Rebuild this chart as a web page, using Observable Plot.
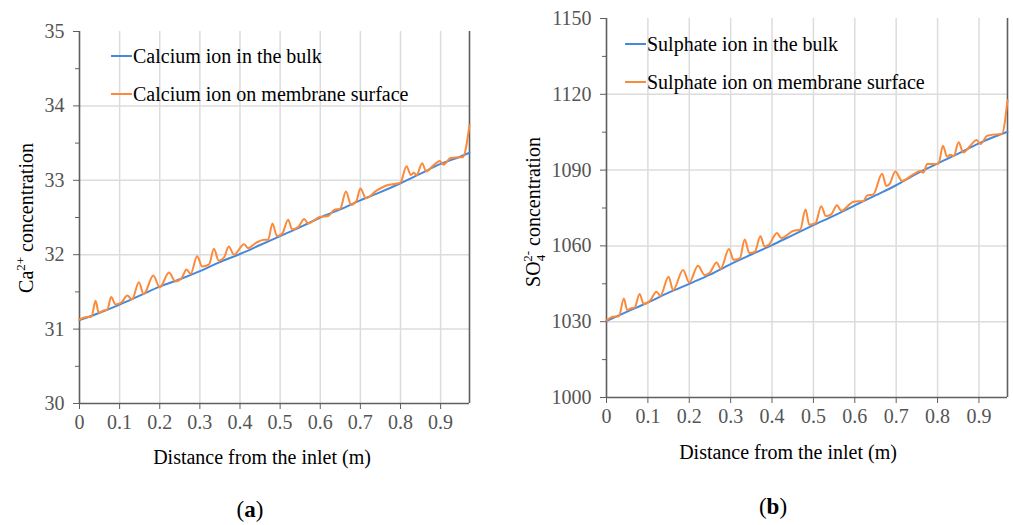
<!DOCTYPE html>
<html>
<head>
<meta charset="utf-8">
<script src="https://cdn.jsdelivr.net/npm/d3@7"></script>
<script src="https://cdn.jsdelivr.net/npm/@observablehq/plot@0.6"></script>
<style>
  html, body { margin: 0; padding: 0; background: #fff; }
  #root { position: relative; width: 1013px; height: 525px; font-family: "Liberation Serif", serif; overflow: hidden; }
  .pane { position: absolute; top: 0; }
  .lbl { position: absolute; font-family: "Liberation Serif", serif; font-size: 20px; color: #000; white-space: nowrap; line-height: 1; }
  .cap { font-size: 23px; }
  .ylbl { transform: translate(-50%, -50%) rotate(-90deg); }
  .xlbl { transform: translate(-50%, -50%); }
  .leg { position: absolute; display: flex; align-items: center; font-family: "Liberation Serif", serif; font-size: 20px; color: #000; white-space: nowrap; line-height: 1; transform: translateY(-50%); }
  .leg span.sw { display: inline-block; width: 21px; height: 0; border-top: 2px solid; margin-right: 1px; }
  sup, sub { font-size: 13px; line-height: 0; }
</style>
</head>
<body>
<div id="root"></div>
<script>
// ---------- data ----------
const xTicks = [0, 0.1, 0.2, 0.3, 0.4, 0.5, 0.6, 0.7, 0.8, 0.9];

// Panel (a): Ca2+ concentration
const caYTicks = [30, 31, 32, 33, 34, 35];
const caYMinor = [30.5, 31.5, 32.5, 33.5, 34.5];
const caXDomain = [0, 0.972];
const caBulk = [
  [0, 31.12], [0.05, 31.22], [0.1, 31.33], [0.15, 31.45], [0.2, 31.57], [0.25, 31.67],
  [0.3, 31.78], [0.35, 31.9], [0.4, 32.01], [0.45, 32.13], [0.5, 32.25], [0.55, 32.37],
  [0.6, 32.5], [0.65, 32.61], [0.7, 32.73], [0.75, 32.84], [0.8, 32.96], [0.85, 33.09],
  [0.9, 33.22], [0.95, 33.32], [0.972, 33.37]
];
const caSurface = [
  [0, 31.13], [0.015, 31.16], [0.03, 31.17], [0.04, 31.38], [0.048, 31.22], [0.06, 31.25],
  [0.069, 31.26], [0.079, 31.43], [0.09, 31.33], [0.105, 31.36], [0.119, 31.45], [0.131, 31.4],
  [0.148, 31.63], [0.16, 31.47], [0.184, 31.72], [0.2, 31.56], [0.223, 31.76], [0.239, 31.64],
  [0.254, 31.68], [0.267, 31.8], [0.277, 31.74], [0.293, 31.98], [0.306, 31.84], [0.323, 31.87],
  [0.335, 32.08], [0.347, 31.92], [0.36, 31.96], [0.372, 32.11], [0.385, 32.0], [0.41, 32.14],
  [0.42, 32.09], [0.44, 32.16], [0.46, 32.2], [0.47, 32.2], [0.481, 32.42], [0.492, 32.25],
  [0.505, 32.28], [0.52, 32.47], [0.53, 32.34], [0.545, 32.37], [0.56, 32.48], [0.57, 32.42],
  [0.6, 32.51], [0.62, 32.52], [0.634, 32.6], [0.65, 32.62], [0.664, 32.85], [0.677, 32.67],
  [0.69, 32.72], [0.7, 32.89], [0.714, 32.76], [0.74, 32.86], [0.765, 32.93], [0.795, 32.96],
  [0.8, 32.97], [0.815, 33.19], [0.826, 33.07], [0.833, 33.1], [0.84, 33.07], [0.854, 33.23],
  [0.864, 33.12], [0.882, 33.2], [0.898, 33.26], [0.907, 33.21], [0.925, 33.3], [0.95, 33.31],
  [0.955, 33.31], [0.972, 33.74]
];

// Panel (b): SO4 2- concentration
const soYTicks = [1000, 1030, 1060, 1090, 1120, 1150];
const soYMinor = [1015, 1045, 1075, 1105, 1135];
const soXDomain = [0, 0.969];
const soBulk = [
  [0, 1030.3], [0.05, 1034], [0.1, 1037.6], [0.15, 1041.5], [0.2, 1045], [0.25, 1048.6],
  [0.3, 1052.8], [0.35, 1056.6], [0.4, 1060.3], [0.45, 1064.3], [0.5, 1068.2], [0.55, 1072],
  [0.6, 1076], [0.65, 1080], [0.7, 1084], [0.75, 1088.6], [0.8, 1092.6], [0.85, 1096.5],
  [0.9, 1100.6], [0.94, 1103.4], [0.969, 1105.2]
];
const soSurface = [
  [0, 1030.5], [0.015, 1032], [0.03, 1032.2], [0.042, 1039.2], [0.05, 1034.6], [0.06, 1035.3],
  [0.068, 1035.6], [0.08, 1041], [0.09, 1037], [0.105, 1038.3], [0.121, 1041.9], [0.13, 1040.2],
  [0.15, 1047.8], [0.161, 1042.5], [0.185, 1050.5], [0.2, 1045.5], [0.221, 1052.1], [0.237, 1048.5],
  [0.25, 1049.5], [0.266, 1053.4], [0.276, 1051], [0.296, 1058.8], [0.307, 1054.5], [0.322, 1055],
  [0.334, 1062.5], [0.345, 1057.2], [0.358, 1057.6], [0.372, 1063.8], [0.382, 1059.8], [0.392, 1060.4],
  [0.412, 1065.1], [0.422, 1063.1], [0.452, 1066], [0.468, 1066.4], [0.481, 1074.4], [0.49, 1068.4],
  [0.505, 1069], [0.519, 1075.7], [0.53, 1071.8], [0.543, 1072.5], [0.557, 1076.1], [0.567, 1073.9],
  [0.597, 1077.5], [0.621, 1077.8], [0.629, 1079.8], [0.645, 1080.4], [0.666, 1088.6], [0.676, 1083.7],
  [0.684, 1084.5], [0.698, 1089.4], [0.714, 1085.7], [0.742, 1088.4], [0.758, 1089.6], [0.766, 1089],
  [0.775, 1092.4], [0.802, 1092.5], [0.813, 1099.6], [0.823, 1095.3], [0.831, 1096.1], [0.839, 1095.5],
  [0.851, 1101], [0.862, 1097], [0.879, 1099.6], [0.894, 1101.9], [0.904, 1100.3], [0.92, 1103.6],
  [0.948, 1104.2], [0.955, 1104.2], [0.969, 1117.6]
];

const BLUE = "#4689db";
const ORANGE = "#fb8a3a";
const GRID = "#dcdcdc";
const AXIS = "#5f5f5f";
const TICKTEXT = "#555555";
const SERIF = "Liberation Serif, serif";

function panel({width, height, mt, mr, mb, ml, xDomain, yDomain, yTicks, yMinor, bulk, surface}) {
  const xGrid = xTicks.filter(d => d > 0);
  const yGrid = yTicks.slice(1, -1);
  const chart = Plot.plot({
    width, height,
    marginTop: mt, marginRight: mr, marginBottom: mb, marginLeft: ml,
    style: {fontFamily: SERIF, fontSize: "20px", background: "transparent", overflow: "visible"},
    x: {domain: xDomain},
    y: {domain: yDomain},
    marks: [
      Plot.gridX(xGrid, {stroke: GRID, strokeOpacity: 1, strokeWidth: 1.5}),
      Plot.gridY(yGrid, {stroke: GRID, strokeOpacity: 1, strokeWidth: 1.5}),
      Plot.axisX(xTicks, {tickSize: 6, tickPadding: 5, stroke: AXIS, fill: TICKTEXT, fontSize: 20, fontFamily: SERIF, label: null,
        tickFormat: d => d === 0 ? "0" : d3.format(".1f")(d)}),
      Plot.axisY(yTicks, {tickSize: 6, tickPadding: 9, stroke: AXIS, fill: TICKTEXT, fontSize: 20, fontFamily: SERIF, label: null,
        tickFormat: d => String(d)}),
      Plot.axisY(yMinor, {tickSize: 4, stroke: AXIS, text: null, label: null}),
      Plot.ruleX([xDomain[0]], {stroke: AXIS, strokeWidth: 1.6}),
      Plot.ruleX([xDomain[1]], {stroke: AXIS, strokeWidth: 1.6}),
      Plot.ruleY([yDomain[0]], {stroke: AXIS, strokeWidth: 1.6}),
      Plot.line(bulk, {x: d => d[0], y: d => d[1], stroke: BLUE, strokeWidth: 2, curve: "monotone-x"}),
      Plot.line(surface, {x: d => d[0], y: d => d[1], stroke: ORANGE, strokeWidth: 2, curve: "monotone-x"})
    ]
  });
  chart.setAttribute("font-family", SERIF);
  d3.select(chart).selectAll("text, g").attr("font-family", SERIF);
  return chart;
}

const root = document.getElementById("root");

function addPane(left, chart) {
  const d = document.createElement("div");
  d.className = "pane";
  d.style.left = left + "px";
  d.appendChild(chart);
  root.appendChild(d);
}

addPane(0, panel({
  width: 500, height: 440, mt: 31, mr: 31, mb: 37, ml: 79,
  xDomain: caXDomain, yDomain: [caYTicks[0], caYTicks[caYTicks.length - 1]],
  yTicks: caYTicks, yMinor: caYMinor, bulk: caBulk, surface: caSurface
}));

addPane(500, panel({
  width: 513, height: 440, mt: 18, mr: 6, mb: 43, ml: 106,
  xDomain: soXDomain, yDomain: [soYTicks[0], soYTicks[soYTicks.length - 1]],
  yTicks: soYTicks, yMinor: soYMinor, bulk: soBulk, surface: soSurface
}));

function addLabel(html, cls, x, y) {
  const d = document.createElement("div");
  d.className = "lbl " + cls;
  d.style.left = x + "px";
  d.style.top = y + "px";
  d.innerHTML = html;
  root.appendChild(d);
}

function addLegend(x, y, color, text) {
  const d = document.createElement("div");
  d.className = "leg";
  d.style.left = x + "px";
  d.style.top = y + "px";
  d.innerHTML = `<span class="sw" style="border-color:${color}"></span><span>${text}</span>`;
  root.appendChild(d);
}

// axis titles
addLabel("Distance from the inlet (m)", "xlbl", 262, 457);
addLabel("Distance from the inlet (m)", "xlbl", 788, 452);
addLabel("Ca<sup>2+</sup> concentration", "ylbl", 26, 218);
addLabel('SO<sub>4</sub><sup style="margin-left:-7px">2-</sup> concentration', "ylbl", 533, 212);

// panel captions
addLabel("(<b>a</b>)", "xlbl cap", 250, 509);
addLabel("(<b>b</b>)", "xlbl cap", 773, 506);

// legends
addLegend(111, 56, BLUE, "Calcium ion in the bulk");
addLegend(111, 94, ORANGE, "Calcium ion on membrane surface");
addLegend(625, 44, BLUE, "Sulphate ion in the bulk");
addLegend(625, 82, ORANGE, "Sulphate ion on membrane surface");
</script>
</body>
</html>
